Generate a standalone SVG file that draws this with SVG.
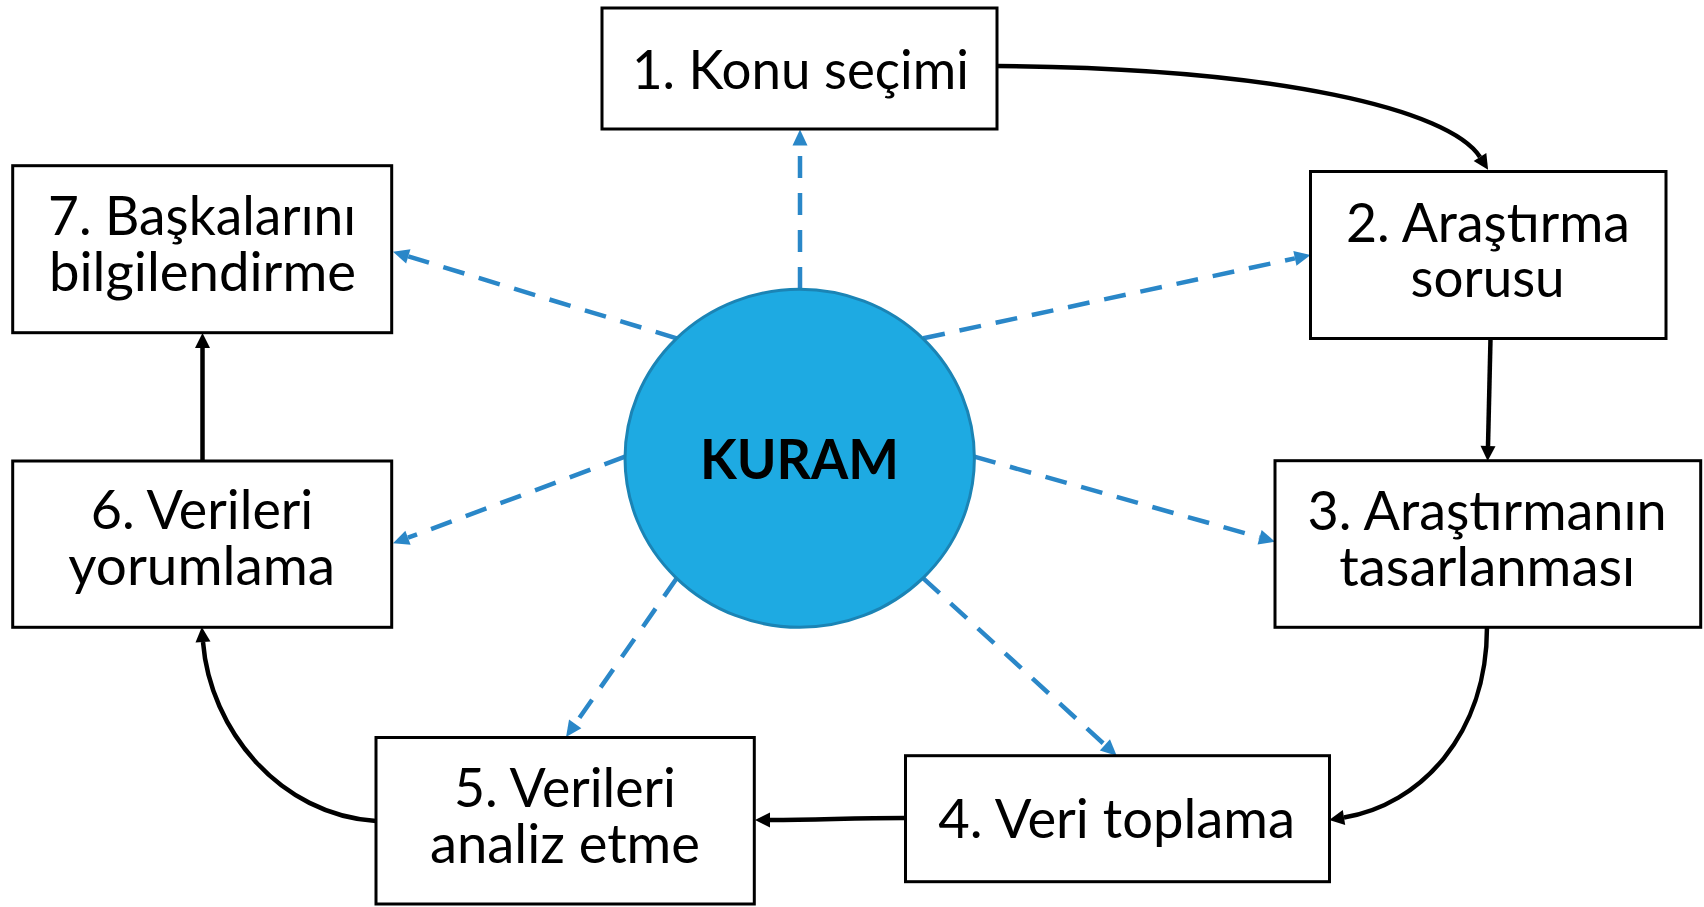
<svg xmlns="http://www.w3.org/2000/svg" width="1704" height="907" viewBox="0 0 1704 907">
<style>
.box{fill:#fff;stroke:#000;stroke-width:3}
.lbl{font-family:Lato,"Liberation Sans",sans-serif;font-size:55px;fill:#000;text-anchor:middle}
.k{font-family:Lato,"Liberation Sans",sans-serif;font-size:56px;font-weight:bold;fill:#000;text-anchor:middle}
.blk{fill:none;stroke:#000;stroke-width:4.5;marker-end:url(#ab)}
.blu{fill:none;stroke:#2a87c8;stroke-width:4.5;stroke-dasharray:22 15;marker-end:url(#au)}
</style>
<defs>
<marker id="ab" markerUnits="userSpaceOnUse" markerWidth="16" markerHeight="16" refX="0" refY="7.5" orient="auto" overflow="visible">
<path d="M0,0 L15,7.5 L0,15 z" fill="#000"/>
</marker>
<marker id="au" markerUnits="userSpaceOnUse" markerWidth="17" markerHeight="16" refX="0" refY="7.5" orient="auto" overflow="visible">
<path d="M0,0 L16,7.5 L0,15 z" fill="#2a87c8"/>
</marker>
</defs>
<rect width="1704" height="907" fill="#fff"/>
<g id="connectors">
<path class="blk" d="M997,66 C1280,68 1450,110 1480,157"/>
<path class="blk" d="M1490.5,338.5 L1488,446"/>
<path class="blk" d="M1487,627 C1487,735 1420,805 1344,817.5"/>
<path class="blk" d="M905,818 C850,818 820,820 770,820"/>
<path class="blk" d="M376,821 C280,815 210,730 203,642"/>
<path class="blk" d="M202.5,461 L202.5,348"/>
<path class="blu" d="M800,289 L800,145.5"/>
<path class="blu" d="M923.3,338.3 L1294.9,258.4"/>
<path class="blu" d="M974.3,456.7 L1259.6,537.3"/>
<path class="blu" d="M923.3,578.3 L1104.9,744.9"/>
<path class="blu" d="M676.7,578.3 L575.2,723.9"/>
<path class="blu" d="M625,456.7 L408,537.7"/>
<path class="blu" d="M676.7,338.3 L408.3,256.4"/>
</g>
<g id="kuram">
<ellipse cx="799.7" cy="458.3" rx="174.7" ry="169" fill="#1eaae2" stroke="#1b84b5" stroke-width="3"/>
<text class="k" x="799.5" y="479.3" textLength="199" lengthAdjust="spacingAndGlyphs">KURAM</text>
</g>
<g id="n1">
<rect class="box" x="602" y="8" width="395" height="121"/>
<text class="lbl" x="800.4" y="89.3" textLength="337" lengthAdjust="spacingAndGlyphs">1. Konu seçimi</text>
</g>
<g id="n2">
<rect class="box" x="1310.5" y="171.5" width="355.5" height="167"/>
<text class="lbl" x="1488" y="241.7" textLength="284" lengthAdjust="spacingAndGlyphs">2. Araştırma</text>
<text class="lbl" x="1487.6" y="296.7" textLength="154" lengthAdjust="spacingAndGlyphs">sorusu</text>
</g>
<g id="n3">
<rect class="box" x="1275" y="460.7" width="425.7" height="166.6"/>
<text class="lbl" x="1487" y="530" textLength="359" lengthAdjust="spacingAndGlyphs">3. Araştırmanın</text>
<text class="lbl" x="1487.2" y="585.7" textLength="296" lengthAdjust="spacingAndGlyphs">tasarlanması</text>
</g>
<g id="n4">
<rect class="box" x="905.5" y="755.7" width="424" height="126"/>
<text class="lbl" x="1116.7" y="837.7" textLength="356.7" lengthAdjust="spacingAndGlyphs">4. Veri toplama</text>
</g>
<g id="n5">
<rect class="box" x="376" y="737.5" width="378.3" height="166.5"/>
<text class="lbl" x="565" y="806.7" textLength="222" lengthAdjust="spacingAndGlyphs">5. Verileri</text>
<text class="lbl" x="565" y="862.7" textLength="270" lengthAdjust="spacingAndGlyphs">analiz etme</text>
</g>
<g id="n6">
<rect class="box" x="12.7" y="461" width="379" height="166.3"/>
<text class="lbl" x="202" y="529" textLength="222.6" lengthAdjust="spacingAndGlyphs">6. Verileri</text>
<text class="lbl" x="201.7" y="585" textLength="266.7" lengthAdjust="spacingAndGlyphs">yorumlama</text>
</g>
<g id="n7">
<rect class="box" x="12.7" y="165.7" width="379" height="167"/>
<text class="lbl" x="202" y="235" textLength="308" lengthAdjust="spacingAndGlyphs">7. Başkalarını</text>
<text class="lbl" x="202.5" y="290.7" textLength="307" lengthAdjust="spacingAndGlyphs">bilgilendirme</text>
</g>
</svg>
